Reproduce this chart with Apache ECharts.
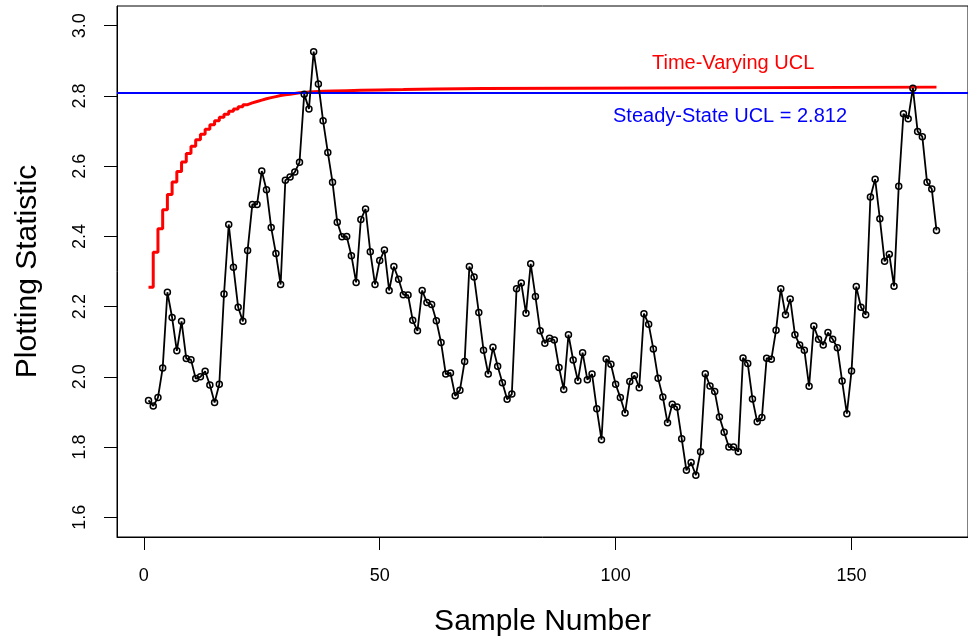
<!DOCTYPE html>
<html>
<head>
<meta charset="utf-8">
<script src="https://cdn.jsdelivr.net/npm/echarts@6/dist/echarts.min.js"></script>
<style>
html,body{margin:0;padding:0;background:#fff;}
#chart{width:968px;height:642px;}
</style>
</head>
<body>
<div id="chart"></div>
<script>
// Plotting statistic for samples 1..168
const plotStat = [
1.933,1.917,1.941,2.025,2.241,2.169,2.074,2.158,2.052,2.049,
1.995,2.000,2.016,1.977,1.927,1.979,2.236,2.434,2.312,2.198,
2.158,2.360,2.491,2.491,2.586,2.533,2.425,2.351,2.263,2.560,
2.569,2.583,2.611,2.805,2.763,2.926,2.834,2.729,2.639,2.554,
2.440,2.399,2.400,2.345,2.269,2.448,2.478,2.356,2.263,2.331,
2.361,2.246,2.314,2.278,2.234,2.233,2.161,2.131,2.246,2.212,
2.206,2.160,2.098,2.008,2.011,1.946,1.962,2.044,2.314,2.284,
2.183,2.076,2.008,2.084,2.030,1.983,1.936,1.951,2.251,2.267,
2.181,2.322,2.229,2.131,2.096,2.110,2.105,2.027,1.964,2.120,
2.048,1.989,2.069,1.992,2.008,1.909,1.821,2.051,2.036,1.979,
1.941,1.897,1.987,2.004,1.969,2.180,2.150,2.079,1.996,1.943,
1.869,1.922,1.914,1.824,1.734,1.756,1.720,1.787,2.009,1.974,
1.958,1.886,1.842,1.800,1.800,1.787,2.054,2.038,1.937,1.872,
1.884,2.053,2.050,2.133,2.251,2.177,2.222,2.120,2.091,2.076,
1.973,2.145,2.107,2.091,2.126,2.107,2.083,1.988,1.895,2.017,
2.257,2.198,2.177,2.512,2.563,2.450,2.329,2.349,2.258,2.543,
2.749,2.735,2.822,2.699,2.684,2.554,2.535,2.417
];

// Time-varying UCL (step line), sample numbers where the level changes and its value
const ucl_samples = [1,2,3,4,5,6,7,8,9,10,11,12,13,14,15,16,17,18,19,20,
  21,22,23,24,25,26,27,28,29,30,31,32,33,34,35,36,38,40,43,46,50,55,62,72,90,168];
const ucl_values = [2.255,2.355,2.422,2.476,2.519,2.555,2.585,2.612,2.636,2.657,
  2.675,2.691,2.705,2.718,2.729,2.739,2.748,2.756,2.763,2.769,
  2.775,2.780,2.784,2.788,2.792,2.795,2.798,2.801,2.803,2.805,
  2.807,2.809,2.810,2.811,2.812,2.813,2.814,2.815,2.816,2.817,
  2.818,2.820,2.821,2.822,2.825,2.826];

const steadyUCL = 2.812;
const xTicks = [0, 50, 100, 150];
const yTicks = [1.6, 1.8, 2.0, 2.2, 2.4, 2.6, 2.8, 3.0];

const statData = plotStat.map((v, i) => [i + 1, v]);
const uclData = ucl_samples.map((s, i) => [s, ucl_values[i]]);

const FONT = 'Liberation Sans, Arial, Helvetica, sans-serif';
const chart = echarts.init(document.getElementById('chart'));
chart.setOption({
  animation: false,
  backgroundColor: '#ffffff',
  grid: {left: 117, right: -4, top: 6, bottom: 105, show: true,
         borderColor: '#000', borderWidth: 1, backgroundColor: 'transparent'},
  xAxis: {
    type: 'value', min: -5.68, max: 174.68,
    name: 'Sample Number', nameLocation: 'middle', nameGap: 70,
    nameTextStyle: {fontFamily: FONT, fontSize: 30, color: '#000'},
    axisLine: {show: true, onZero: false, lineStyle: {color: '#000', width: 1}},
    axisTick: {show: true, length: 13, customValues: xTicks, lineStyle: {color: '#000'}},
    axisLabel: {customValues: xTicks, margin: 30, fontFamily: FONT, fontSize: 18, color: '#000'},
    splitLine: {show: false}
  },
  yAxis: {
    type: 'value', min: 1.544, max: 3.056,
    name: 'Plotting Statistic', nameLocation: 'middle', nameGap: 74,
    nameTextStyle: {fontFamily: FONT, fontSize: 30, color: '#000'},
    axisLine: {show: true, onZero: false, lineStyle: {color: '#000', width: 1}},
    axisTick: {show: true, length: 13, customValues: yTicks, lineStyle: {color: '#000'}},
    axisLabel: {customValues: yTicks, rotate: 90, margin: 28, fontFamily: FONT, fontSize: 18, color: '#000',
      formatter: v => v.toFixed(1)},
    splitLine: {show: false}
  },
  graphic: [
    {type: 'text', left: 652, top: 53, z: 10,
     style: {text: 'Time-Varying UCL', fill: '#ff0000', font: '20px ' + FONT}},
    {type: 'text', left: 613, top: 106, z: 10,
     style: {text: 'Steady-State UCL = 2.812', fill: '#0000ff', font: '20px ' + FONT}}
  ],
  series: [
    {
      type: 'line', data: uclData, step: 'end', showSymbol: false, symbol: 'none',
      lineStyle: {color: '#ff0000', width: 3}, z: 2,
      markLine: {
        silent: true, symbol: ['none', 'none'], label: {show: false},
        lineStyle: {color: '#0000ff', width: 2, type: 'solid'},
        data: [{yAxis: steadyUCL}], z: 3
      }
    },
    {
      type: 'line', data: statData, symbol: 'circle', symbolSize: 6, showAllSymbol: true,
      lineStyle: {color: '#000', width: 1.8},
      itemStyle: {color: 'rgba(255,255,255,0)', borderColor: '#000', borderWidth: 1.5},
      z: 4
    }
  ]
});
</script>
</body>
</html>
